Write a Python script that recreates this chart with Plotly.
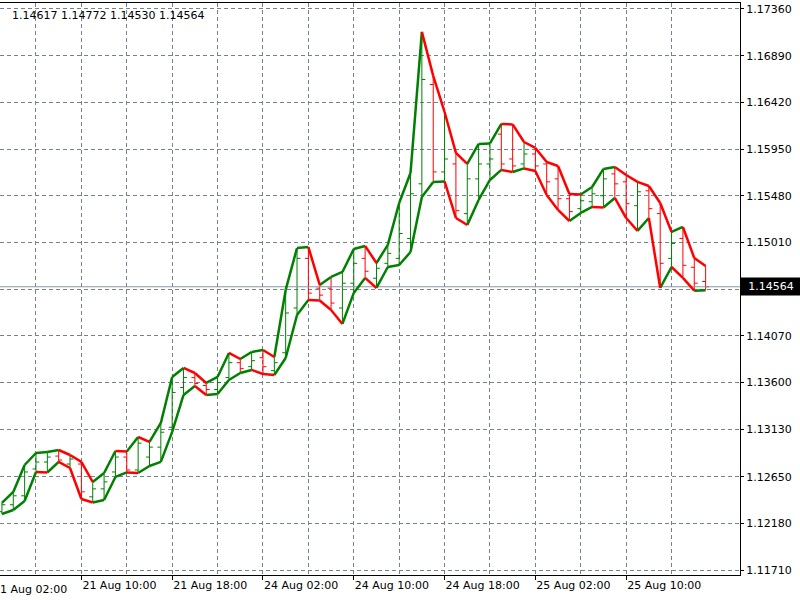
import plotly.graph_objects as go

# ---- data (EURUSD H1, bar index 0 = 24 Aug 02:00) ----
bar_index = list(range(-23, 40))

highs = [1.12388, 1.12499, 1.12770, 1.12891, 1.12901, 1.12921, 1.12871, 1.12801, 1.12599, 1.12690,
         1.12911, 1.12906, 1.13052, 1.13002, 1.13193, 1.13656, 1.13747, 1.13696, 1.13596, 1.13656,
         1.13898, 1.13837, 1.13908, 1.13928, 1.13857, 1.14532, 1.14954, 1.14964, 1.14582, 1.14663,
         1.14713, 1.14944, 1.14975, 1.14803, 1.14985, 1.15407, 1.15709, 1.17129, 1.16686, 1.16323,
         1.15911, 1.15800, 1.16001, 1.16006, 1.16203, 1.16198, 1.16021, 1.15961, 1.15820, 1.15780,
         1.15498, 1.15493, 1.15568, 1.15750, 1.15770, 1.15689, 1.15619, 1.15578, 1.15407, 1.15116,
         1.15166, 1.14854, 1.14772]

lows = [1.12277, 1.12317, 1.12408, 1.12700, 1.12695, 1.12801, 1.12740, 1.12428, 1.12393, 1.12418,
        1.12650, 1.12695, 1.12690, 1.12760, 1.12801, 1.13103, 1.13475, 1.13566, 1.13475, 1.13485,
        1.13626, 1.13696, 1.13727, 1.13686, 1.13676, 1.13847, 1.14280, 1.14431, 1.14426, 1.14330,
        1.14190, 1.14502, 1.14653, 1.14552, 1.14763, 1.14783, 1.14914, 1.15468, 1.15619, 1.15624,
        1.15256, 1.15186, 1.15438, 1.15639, 1.15740, 1.15719, 1.15755, 1.15729, 1.15488, 1.15337,
        1.15226, 1.15307, 1.15367, 1.15362, 1.15458, 1.15256, 1.15126, 1.15256, 1.14552, 1.14763,
        1.14653, 1.14525, 1.14530]

opens = [1.12300, 1.12370, 1.12460, 1.12730, 1.12800, 1.12860, 1.12780, 1.12780, 1.12450, 1.12530,
         1.12700, 1.12850, 1.12720, 1.12850, 1.12950, 1.13150, 1.13550, 1.13650, 1.13570, 1.13530,
         1.13650, 1.13800, 1.13760, 1.13850, 1.13720, 1.13900, 1.14350, 1.14850, 1.14550, 1.14550,
         1.14350, 1.14600, 1.14850, 1.14650, 1.14800, 1.14850, 1.15050, 1.15600, 1.16600, 1.15720,
         1.15800, 1.15300, 1.15650, 1.15800, 1.16100, 1.15850, 1.15800, 1.15900, 1.15800, 1.15650,
         1.15450, 1.15350, 1.15420, 1.15480, 1.15700, 1.15620, 1.15380, 1.15530, 1.15300, 1.14850,
         1.15050, 1.14760, 1.14617]

closes = [1.12370, 1.12460, 1.12700, 1.12800, 1.12850, 1.12820, 1.12830, 1.12500, 1.12530, 1.12600,
          1.12850, 1.12720, 1.12990, 1.12950, 1.13100, 1.13500, 1.13650, 1.13590, 1.13530, 1.13600,
          1.13800, 1.13740, 1.13820, 1.13760, 1.13800, 1.14300, 1.14850, 1.14500, 1.14480, 1.14400,
          1.14600, 1.14800, 1.14720, 1.14750, 1.14900, 1.15100, 1.15500, 1.16650, 1.15720, 1.15850,
          1.15330, 1.15650, 1.15800, 1.15850, 1.15800, 1.15780, 1.15900, 1.15780, 1.15620, 1.15450,
          1.15320, 1.15430, 1.15500, 1.15650, 1.15600, 1.15400, 1.15520, 1.15350, 1.14800, 1.15000,
          1.14780, 1.14600, 1.14564]

x_tick_index = [-24, -16, -8, 0, 8, 16, 24, 32]
x_tick_labels = ["21 Aug 02:00", "21 Aug 10:00", "21 Aug 18:00", "24 Aug 02:00",
                 "24 Aug 10:00", "24 Aug 18:00", "25 Aug 02:00", "25 Aug 10:00"]
x_grid_index = [-20, -12, -4, 4, 12, 20, 28, 36]

y_tick_values = [1.11710, 1.12180, 1.12650, 1.13130, 1.13600, 1.14070, 1.14540,
                 1.15010, 1.15480, 1.15950, 1.16420, 1.16890, 1.17360]
y_tick_labels = ["1.11710", "1.12180", "1.12650", "1.13130", "1.13600", "1.14070", "",
                 "1.15010", "1.15480", "1.15950", "1.16420", "1.16890", "1.17360"]

last_price = 1.14564
header_text = "1.14617 1.14772 1.14530 1.14564"

GREEN = "#008000"
RED = "#ff0000"
GRID = "#75828f"
FONT = "DejaVu Sans"

X_RANGE = [-23.17, 42.03]
Y_RANGE = [1.11663, 1.17420]


def split_by_slope(xs, ys):
    ux, uy, dx, dy = [], [], [], []
    for i in range(1, len(xs)):
        if ys[i] > ys[i - 1]:
            ux += [xs[i - 1], xs[i], None]
            uy += [ys[i - 1], ys[i], None]
        else:
            dx += [xs[i - 1], xs[i], None]
            dy += [ys[i - 1], ys[i], None]
    return ux, uy, dx, dy


fig = go.Figure()

# price line
fig.add_trace(go.Scatter(x=X_RANGE, y=[last_price, last_price], mode="lines",
                         line=dict(color="#8896a4", width=1), hoverinfo="skip",
                         showlegend=False))

fig.add_trace(go.Ohlc(x=bar_index, open=opens, high=highs, low=lows, close=closes,
                      increasing=dict(line=dict(color=GREEN, width=1)),
                      decreasing=dict(line=dict(color=RED, width=1)),
                      tickwidth=0.3, hoverinfo="skip", showlegend=False))

for series in (highs, lows):
    ux, uy, dx, dy = split_by_slope(bar_index, series)
    fig.add_trace(go.Scatter(x=ux, y=uy, mode="lines", line=dict(color=GREEN, width=2.5),
                             hoverinfo="skip", showlegend=False, connectgaps=False))
    fig.add_trace(go.Scatter(x=dx, y=dy, mode="lines", line=dict(color=RED, width=2.5),
                             hoverinfo="skip", showlegend=False, connectgaps=False))

fig.update_layout(
    width=800, height=600,
    margin=dict(l=0, r=60, t=3, b=25),
    paper_bgcolor="white", plot_bgcolor="white",
    font=dict(family=FONT, size=11, color="black"),
    showlegend=False,
)

fig.update_xaxes(
    range=X_RANGE, rangeslider=dict(visible=False),
    tickmode="array", tickvals=x_tick_index, ticktext=x_tick_labels,
    ticks="outside", ticklen=4, tickcolor="black",
    ticklabelposition="outside right",
    showgrid=True, gridcolor=GRID, griddash="4px,3px", gridwidth=1,
    minor=dict(tickmode="array", tickvals=x_grid_index, showgrid=True,
               gridcolor=GRID, griddash="4px,3px", gridwidth=1, ticks=""),
    showline=True, linecolor="black", linewidth=1, mirror=True,
    zeroline=False, tickfont=dict(family=FONT, size=11, color="black"),
)

fig.update_yaxes(
    range=Y_RANGE, side="right",
    tickmode="array", tickvals=y_tick_values, ticktext=y_tick_labels,
    ticks="outside", ticklen=3, tickcolor="black",
    showgrid=True, gridcolor=GRID, griddash="4px,3px", gridwidth=1,
    showline=True, linecolor="black", linewidth=1,
    zeroline=False, tickfont=dict(family=FONT, size=11, color="black"),
)

# cut-off first time label at the left edge
span = X_RANGE[1] - X_RANGE[0]
fig.add_annotation(xref="paper", yref="paper", x=(x_tick_index[0] - X_RANGE[0]) / span,
                   y=0, yanchor="top", xanchor="left", yshift=-6,
                   text=x_tick_labels[0], showarrow=False,
                   font=dict(family=FONT, size=11, color="black"))

fig.add_annotation(xref="paper", yref="paper", x=0.013, y=0.978, xanchor="left",
                   yanchor="middle", text=header_text, showarrow=False,
                   font=dict(family=FONT, size=11, color="black"))

fig.add_annotation(xref="paper", yref="y", x=1, y=last_price, xanchor="left",
                   yanchor="middle", text="1.14564", showarrow=False,
                   bgcolor="black", width=56, borderpad=2, align="center",
                   font=dict(family=FONT, size=11, color="white"))

fig.write_html("out.html")
